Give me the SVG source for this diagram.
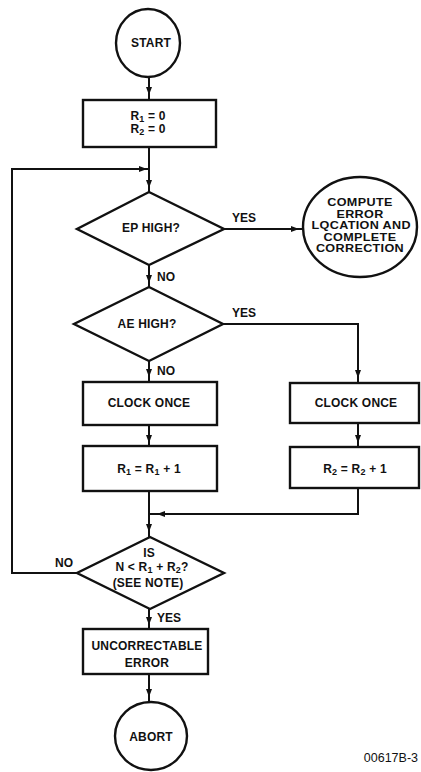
<svg xmlns="http://www.w3.org/2000/svg" xmlns:xlink="http://www.w3.org/1999/xlink" width="421" height="772" viewBox="0 0 421 772">
<style>
.shape{fill:#fff;stroke:#111;stroke-width:2.4}
.line{fill:none;stroke:#111;stroke-width:2}
.t{font-family:"Liberation Sans",Arial,sans-serif;font-weight:bold;font-size:12px;fill:#111;text-anchor:middle;letter-spacing:0.2px}
.c{font-size:10.5px;letter-spacing:0.3px}
.lbl{font-family:"Liberation Sans",Arial,sans-serif;font-weight:bold;font-size:12px;fill:#111}
.sub{font-size:9px}
.ref{font-family:"Liberation Sans",Arial,sans-serif;font-size:12.5px;fill:#111;text-anchor:end}
</style>
<defs>
<path id="ah" d="M0,0 L-3,-8 L3,-8 Z" fill="#111"/>
</defs>
<rect width="421" height="772" fill="#fff"/>
<g id="connectors">
<path class="line" d="M149,77 V100"/>
<use xlink:href="#ah" transform="translate(149,95)"/>
<path class="line" d="M149,147 V192"/>
<use xlink:href="#ah" transform="translate(149,188)"/>
<path class="line" d="M77,573 H12 V169 H149"/>
<use xlink:href="#ah" transform="translate(147,169) rotate(-90)"/>
<path class="line" d="M224,229 H302"/>
<use xlink:href="#ah" transform="translate(299,229) rotate(-90)"/>
<text class="lbl" x="232" y="222">YES</text>
<path class="line" d="M149,265 V287"/>
<use xlink:href="#ah" transform="translate(149,283)"/>
<text class="lbl" x="157" y="281">NO</text>
<path class="line" d="M149,361 V382"/>
<use xlink:href="#ah" transform="translate(149,377)"/>
<text class="lbl" x="157" y="375">NO</text>
<path class="line" d="M223,324 H358 V383"/>
<use xlink:href="#ah" transform="translate(358,378)"/>
<text class="lbl" x="232" y="317">YES</text>
<path class="line" d="M149,425 V446"/>
<use xlink:href="#ah" transform="translate(149,443)"/>
<path class="line" d="M358,423 V447"/>
<use xlink:href="#ah" transform="translate(358,443)"/>
<path class="line" d="M149,491 V537"/>
<use xlink:href="#ah" transform="translate(149,532)"/>
<path class="line" d="M358,488 V514 H149"/>
<use xlink:href="#ah" transform="translate(157,514) rotate(90)"/>
<text class="lbl" x="55" y="567">NO</text>
<path class="line" d="M149,609 V629"/>
<use xlink:href="#ah" transform="translate(149,625)"/>
<text class="lbl" x="157" y="622">YES</text>
<path class="line" d="M149,674 V702"/>
<use xlink:href="#ah" transform="translate(149,697)"/>
</g>
<g id="start">
<ellipse class="shape" cx="148" cy="43" rx="32" ry="34"/>
<text class="t" x="151" y="47">START</text>
</g>
<g id="init">
<rect class="shape" x="83" y="100" width="133" height="47"/>
<text class="t" x="148" y="120">R<tspan class="sub" dy="2">1</tspan><tspan dy="-2"> = 0</tspan></text>
<text class="t" x="148" y="133">R<tspan class="sub" dy="2">2</tspan><tspan dy="-2"> = 0</tspan></text>
</g>
<g id="ep">
<polygon class="shape" points="149,192 224,229 149,265 77,229"/>
<text class="t" x="151" y="232">EP HIGH?</text>
</g>
<g id="compute">
<ellipse class="shape" cx="360" cy="227" rx="57" ry="50"/>
<g transform="translate(360,0) scale(1.2,1) translate(-360,0)">
<text class="t c" x="360" y="206">COMPUTE</text>
<text class="t c" x="360" y="217.6">ERROR</text>
<text class="t c" x="361" y="229.2">LQCATION AND</text>
<text class="t c" x="360" y="240.8">COMPLETE</text>
<text class="t c" x="360" y="252.4">CORRECTION</text>
</g>
</g>
<g id="ae">
<polygon class="shape" points="149,287 223,324 149,361 74,324"/>
<text class="t" x="147" y="328">AE HIGH?</text>
</g>
<g id="clock1">
<rect class="shape" x="83" y="382" width="134" height="43"/>
<text class="t" x="149" y="407">CLOCK ONCE</text>
</g>
<g id="clock2">
<rect class="shape" x="290" y="383" width="129" height="40"/>
<text class="t" x="356" y="407">CLOCK ONCE</text>
</g>
<g id="inc1">
<rect class="shape" x="83" y="446" width="134" height="45"/>
<text class="t" x="149" y="473">R<tspan class="sub" dy="2">1</tspan><tspan dy="-2"> = R</tspan><tspan class="sub" dy="2">1</tspan><tspan dy="-2"> + 1</tspan></text>
</g>
<g id="inc2">
<rect class="shape" x="290" y="447" width="129" height="41"/>
<text class="t" x="355" y="473">R<tspan class="sub" dy="2">2</tspan><tspan dy="-2"> = R</tspan><tspan class="sub" dy="2">2</tspan><tspan dy="-2"> + 1</tspan></text>
</g>
<g id="test">
<polygon class="shape" points="150,537 224,573 150,609 77,573"/>
<text class="t" x="149" y="557">IS</text>
<text class="t" x="152" y="571">N &lt; R<tspan class="sub" dy="2">1</tspan><tspan dy="-2"> + R</tspan><tspan class="sub" dy="2">2</tspan><tspan dy="-2">?</tspan></text>
<text class="t" x="148" y="587">(SEE NOTE)</text>
</g>
<g id="uncorrectable">
<rect class="shape" x="83" y="629" width="125" height="45"/>
<text class="t" x="147" y="650">UNCORRECTABLE</text>
<text class="t" x="147" y="667">ERROR</text>
</g>
<g id="abort">
<ellipse class="shape" cx="151" cy="736" rx="36" ry="34"/>
<text class="t" x="151" y="741">ABORT</text>
</g>
<text class="ref" x="418" y="762">00617B-3</text>
</svg>
